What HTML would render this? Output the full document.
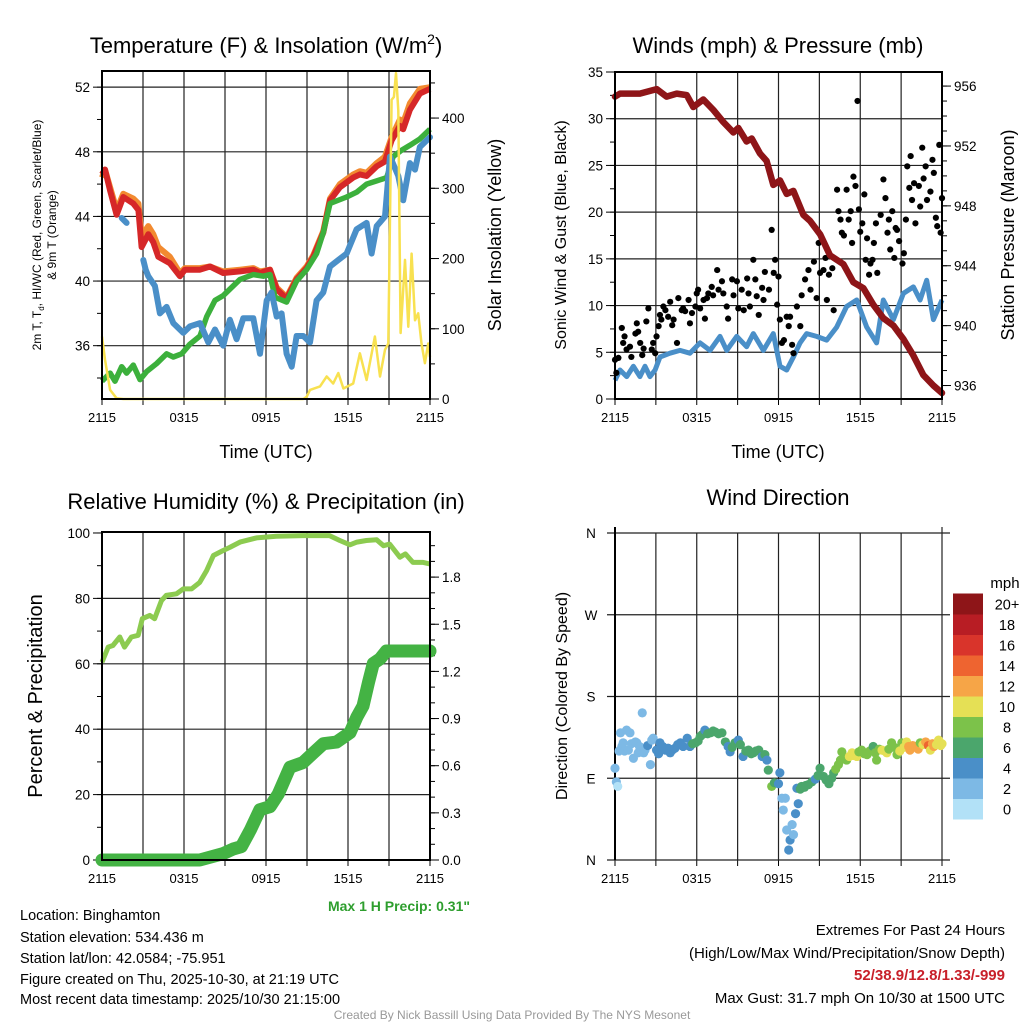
<!DOCTYPE html>
<html><head><meta charset="utf-8"><style>
html,body{margin:0;padding:0;background:#fff;}
svg{display:block;font-family:"Liberation Sans",sans-serif;}
</style></head><body>
<svg id="root" xmlns="http://www.w3.org/2000/svg" width="1024" height="1024" viewBox="0 0 1024 1024">
<rect width="1024" height="1024" fill="#fff"/>
<g id="layer"></g>
<g font-size="22" text-anchor="middle" fill="#000">
<text x="266" y="53">Temperature (F) &amp; Insolation (W/m<tspan font-size="14" dy="-9">2</tspan><tspan dy="9">)</tspan></text>
<text x="778" y="53">Winds (mph) &amp; Pressure (mb)</text>
<text x="266" y="509">Relative Humidity (%) &amp; Precipitation (in)</text>
<text x="778" y="505">Wind Direction</text>
</g>
<g font-size="18" text-anchor="middle">
<text x="266" y="458">Time (UTC)</text>
<text x="778" y="458">Time (UTC)</text>
<text transform="translate(501,235) rotate(-90)">Solar Insolation (Yellow)</text>
<text transform="translate(566,235) rotate(-90)" font-size="16">Sonic Wind &amp; Gust (Blue, Black)</text>
<text transform="translate(1014,235) rotate(-90)">Station Pressure (Maroon)</text>
<text transform="translate(42,696) rotate(-90)" font-size="20">Percent &amp; Precipitation</text>
<text transform="translate(567,696) rotate(-90)" font-size="16">Direction (Colored By Speed)</text>
</g>
<g font-size="12" text-anchor="middle">
<text transform="translate(41,235) rotate(-90)">2m T, T<tspan font-size="8" dy="3">d</tspan><tspan dy="-3">, HI/WC (Red, Green, Scarlet/Blue)</tspan></text>
<text transform="translate(56,235) rotate(-90)">&amp; 9m T (Orange)</text>
</g>
<text x="470" y="911" font-size="14" font-weight="bold" fill="#2E9E2E" text-anchor="end">Max 1 H Precip: 0.31"</text>
<g font-size="14.5" fill="#000">
<text x="20" y="920">Location: Binghamton</text>
<text x="20" y="942">Station elevation: 534.436 m</text>
<text x="20" y="963">Station lat/lon: 42.0584; -75.951</text>
<text x="20" y="984">Figure created on Thu, 2025-10-30, at 21:19 UTC</text>
<text x="20" y="1004">Most recent data timestamp: 2025/10/30 21:15:00</text>
</g>
<g font-size="15" text-anchor="end">
<text x="1005" y="935">Extremes For Past 24 Hours</text>
<text x="1005" y="958">(High/Low/Max Wind/Precipitation/Snow Depth)</text>
<text x="1005" y="980" fill="#C8202A" font-weight="bold">52/38.9/12.8/1.33/-999</text>
<text x="1005" y="1003">Max Gust: 31.7 mph On 10/30 at 1500 UTC</text>
</g>
<text x="512" y="1019" font-size="12" fill="#999" text-anchor="middle">Created By Nick Bassill Using Data Provided By The NYS Mesonet</text>
<text x="1005" y="588" font-size="15" text-anchor="middle">mph</text>
</svg>
<script>
// ---------- data ----------
const xTickLabels = ["2115","0315","0915","1515","2115"];
const tempHours = [0,0.22,0.59,1.07,1.56,2.29,2.66,2.9,3.39,3.75,4.12,4.97,5.7,6.07,7.17,7.9,8.87,10.1,11.07,11.56,12.29,12.78,13.51,14.24,14.97,15.46,16.19,16.68,17.41,18.38,18.87,19.36,20.1,20.7,21.19,21.8,22.04,22.53,23.26,24];
const redTemp = [46.6,46.9,45.6,44.1,45.2,44.8,44.4,42.1,42.9,42.4,41.5,41.1,40.3,40.7,40.7,40.9,40.5,40.6,40.7,40.5,40.7,39.5,38.9,40.1,40.8,41.5,43.0,45.0,45.8,46.4,46.6,46.5,47.1,47.4,48.7,49.6,49.4,50.6,51.6,51.9];
const orangeTemp = [46.4,46.9,45.8,44.4,45.4,45.1,44.8,42.8,43.4,42.9,42.1,41.5,40.5,40.8,40.8,40.9,40.6,40.7,40.8,40.6,40.7,39.6,39.0,40.2,40.9,41.6,43.1,45.1,46.0,46.6,46.8,46.7,47.3,47.7,48.9,50.0,49.8,51.0,51.9,52.0];
const greenHours = [0,0.59,0.95,1.44,1.8,2.29,2.78,3.27,4.0,4.73,5.22,5.83,6.44,7.17,7.66,8.27,8.87,9.36,10.1,11.07,11.8,12.29,12.66,13.51,14.24,14.97,15.7,16.19,16.68,17.9,18.63,19.36,20.1,20.83,21.31,21.92,22.53,23.26,24];
const greenTemp = [33.8,34.3,33.8,34.7,34.3,34.8,33.9,34.4,34.9,35.5,35.3,35.5,36.1,36.6,37.8,38.8,39.1,39.5,40.1,40.4,40.3,40.4,39.0,38.7,40.0,40.7,41.7,43.0,44.8,45.2,45.5,46.0,46.2,46.4,47.7,48.1,48.4,48.8,49.4];
const blueHours1 = [1.44,1.8];
const blueTemp1 = [43.9,43.6];
const blueHours2 = [3.02,3.2,3.39,3.87,4.24,4.73,5.22,5.95,6.44,7.17,7.78,8.27,8.87,9.36,9.85,10.34,11.07,11.56,12.05,12.41,12.78,13.14,13.51,13.88,14.24,14.73,15.22,15.7,16.19,16.68,17.29,17.9,18.63,19.36,19.73,20.1,20.71,21.07,21.68,22.04,22.53,22.9,23.26,24];
const blueTemp2 = [41.3,40.7,40.3,39.7,38.0,38.4,37.4,36.8,37.2,37.4,36.2,37.0,36.0,37.6,36.4,37.7,37.7,35.5,38.8,39.3,37.8,38.0,35.5,34.7,36.6,36.6,36.2,38.8,39.3,40.9,41.3,41.7,43.2,43.6,41.7,43.4,44.0,47.7,46.5,45.0,47.3,46.9,48.3,48.9];
const solarHours = [0,0.22,0.59,1.07,1.56,14.73,14.97,15.22,15.95,16.44,16.92,17.29,17.66,18.38,18.87,19.36,19.97,20.34,20.71,20.95,21.19,21.36,21.51,21.68,21.85,22.17,22.41,22.65,22.9,23.14,23.38,23.63,23.87,24];
const solarValues = [89,56,13,1,0,0,3,13,18,32,22,37,15,22,65,27,89,32,70,79,426,430,464,411,94,198,103,207,112,122,79,51,79,60];

const pressHours = [0,0.37,1.83,3.06,3.79,4.53,5.26,5.75,6.48,7.22,7.95,8.69,9.05,9.66,10.03,10.64,11.13,11.62,12.11,12.6,13.09,13.82,14.31,15.05,15.78,16.76,17.49,18.23,18.96,19.69,20.43,21.17,21.9,22.63,23.37,24];
const pressValues = [955.3,955.5,955.5,955.8,955.3,955.5,955.4,954.6,955.1,954.4,953.6,952.9,953.2,952.3,952.5,951.5,951.0,949.4,949.7,948.8,949.0,947.4,947.0,946.1,944.7,944.1,942.9,942.5,941.4,940.5,940.0,939.1,938.0,936.7,936.0,935.5];
const windHours = [0,0.37,0.86,1.35,1.83,2.2,2.57,2.94,3.3,4.04,4.77,5.5,6.24,6.97,7.71,8.2,8.93,9.66,10.15,10.89,11.62,12.11,12.6,13.09,13.58,14.07,14.8,15.54,16.27,17.0,17.74,18.47,19.2,19.69,20.43,21.17,21.9,22.39,22.88,23.37,24];
const windValues = [2.0,3.1,2.4,3.5,2.4,3.5,2.4,3.1,4.5,4.9,5.2,4.9,6.0,5.2,6.7,5.2,6.7,5.6,7.0,5.2,7.0,3.5,3.1,4.5,6.0,7.0,6.7,6.3,7.7,9.9,10.6,7.7,6.0,10.6,8.5,11.3,12.0,10.6,12.7,8.5,10.6];
const gustHours = [0,0.1,0.25,0.5,0.6,0.7,0.85,1.1,1.2,1.5,1.6,1.7,1.85,2.0,2.1,2.3,2.45,2.7,2.8,2.95,3.05,3.2,3.3,3.4,3.55,3.7,3.9,4.05,4.2,4.3,4.55,4.65,4.9,5.0,5.15,5.4,5.5,5.65,5.9,6.0,6.1,6.25,6.5,6.6,6.75,6.85,7.1,7.2,7.5,7.6,7.85,7.95,8.2,8.3,8.6,8.7,8.95,9.05,9.3,9.45,9.7,9.8,9.9,10.15,10.3,10.4,10.55,10.8,10.9,11.0,11.3,11.5,11.65,11.75,11.9,12.0,12.1,12.25,12.4,12.6,12.75,12.85,13.0,13.1,13.35,13.6,13.7,13.95,14.2,14.35,14.6,14.8,14.95,15.05,15.3,15.45,15.55,15.7,15.95,16.05,16.3,16.4,16.55,16.65,16.8,17.0,17.15,17.3,17.4,17.5,17.65,17.8,17.9,18.0,18.15,18.3,18.4,18.5,18.65,18.75,18.9,19.0,19.15,19.25,19.5,19.7,19.85,20.0,20.1,20.2,20.35,20.5,20.6,20.7,20.85,21.1,21.2,21.35,21.45,21.6,21.7,21.8,21.95,22.05,22.3,22.4,22.55,22.65,22.8,22.9,23.15,23.3,23.4,23.55,23.65,23.8,23.9,24.0];
const gustValues = [4.2,2.8,4.4,7.6,6.0,6.7,5.3,5.6,4.5,7.0,8.1,7.2,6.0,4.7,5.4,8.3,9.7,5.3,6.0,4.9,6.7,7.8,9.0,8.5,9.9,9.5,8.8,10.4,7.9,8.5,6.0,10.8,9.5,9.7,9.4,10.6,8.1,9.2,9.9,11.3,11.7,9.7,10.6,8.6,10.8,11.3,12.0,11.1,13.8,11.7,12.6,11.3,9.9,8.6,12.8,11.1,12.6,9.7,11.7,9.5,12.9,11.3,9.9,14.9,12.8,11.0,9.0,11.9,10.6,13.6,11.7,18.1,13.5,14.9,10.1,13.1,8.5,6.0,6.3,8.8,7.8,8.8,5.8,4.9,9.9,7.8,11.1,12.8,13.8,11.7,14.7,10.8,16.7,13.5,13.8,15.1,10.6,13.3,14.0,9.5,22.4,20.1,19.2,17.8,17.5,22.4,19.2,20.1,16.7,23.8,22.8,31.9,20.3,17.9,18.8,21.9,14.9,17.2,13.3,14.5,14.9,16.7,18.8,13.5,19.7,23.5,21.5,17.8,19.2,16.0,20.1,15.1,18.3,18.1,16.9,14.5,15.6,19.2,24.9,22.6,26.0,21.3,23.1,18.8,22.8,20.6,26.9,23.6,24.9,21.3,22.2,25.6,24.2,19.4,18.5,27.2,17.8,21.5];

const rhHours = [0,0.45,0.8,1.3,1.65,2.15,2.65,2.95,3.5,3.85,4.35,4.7,5.45,5.95,6.55,7.15,7.65,8.15,8.85,9.35,10.1,11.3,12.75,14.7,16.65,17.4,18.15,18.65,19.35,20.1,20.6,21.05,21.8,22.2,22.75,23.5,24];
const rhValues = [60.5,65.1,65.6,68.2,65.1,68.2,68.7,73.8,74.8,73.8,79.3,80.9,81.4,82.9,82.9,84.9,88.5,93.1,94.6,95.6,97.2,98.5,99.0,99.2,99.2,97.7,96.4,97.2,97.7,97.9,96.1,96.6,92.6,93.6,91.0,91.0,90.5];
const precipHours = [0,7.15,8.85,9.6,10.2,10.85,11.55,12.3,12.9,13.75,14.7,15.45,16.2,17.15,18.15,18.65,19.1,19.5,19.85,20.35,20.8,24];
const precipValues = [0,0,0.04,0.07,0.085,0.19,0.32,0.34,0.42,0.59,0.62,0.68,0.74,0.75,0.81,0.91,0.98,1.13,1.25,1.28,1.33,1.33];

const dirHours = [0,0.1,0.2,0.3,0.4,0.5,0.6,0.7,0.85,0.98,1.1,1.2,1.35,1.5,1.6,1.7,1.8,2.0,2.1,2.2,2.4,2.6,2.7,2.8,3.05,3.2,3.3,3.5,3.7,3.9,4.05,4.2,4.4,4.6,4.8,5.0,5.3,5.5,5.7,5.9,6.1,6.25,6.4,6.6,6.8,7.0,7.2,7.35,7.6,7.85,8.1,8.3,8.45,8.6,8.8,9.05,9.2,9.4,9.6,9.8,10.0,10.15,10.35,10.55,10.8,11.0,11.15,11.25,11.5,11.7,12.0,12.1,12.25,12.35,12.5,12.6,12.75,12.85,13.0,13.1,13.25,13.35,13.45,13.6,13.7,13.9,14.0,14.2,14.45,14.7,14.9,15.05,15.3,15.5,15.7,15.9,16.05,16.2,16.4,16.55,16.65,16.8,17.0,17.2,17.4,17.55,17.75,17.9,18.1,18.3,18.5,18.7,18.95,19.1,19.2,19.4,19.6,19.8,19.95,20.1,20.3,20.5,20.7,20.9,21.05,21.2,21.4,21.55,21.65,21.85,22.05,22.25,22.4,22.6,22.8,23.0,23.15,23.3,23.4,23.6,23.75,23.9,24];
const dirValues = [101,86,81,120,140,125,129,120,143,121,140,128,112,130,129,118,125,162,118,121,126,105,132,134,121,117,129,125,121,123,118,121,123,127,129,125,134,125,128,129,131,136,138,143,139,140,142,141,139,140,130,125,119,124,129,132,127,114,120,121,117,118,120,121,114,116,110,99,81,85,84,96,68,55,68,33,11,22,39,28,51,79,62,78,81,80,82,83,86,89,93,101,92,88,84,90,96,100,105,110,119,112,110,114,118,115,114,119,121,117,116,120,125,118,110,122,121,120,118,122,129,124,116,120,129,124,130,125,121,126,125,122,129,127,130,126,121,128,125,127,132,126,128];
const dirSpeeds = [2,1,0.5,2,2,2,2,2,2,2,2,2,2,2,2,2,2,2.5,2,2,4.5,2,2,2,4.5,4.5,4.5,4.5,4.5,4.5,4.5,4.5,4.5,4.5,4.5,4.5,4.5,4.5,5,5,5,5.5,6.5,4.5,6.5,6.5,6.5,6.5,6.5,6.5,5,4.5,4.5,6.5,6.5,4.5,6.5,4.5,6.5,6.5,6.5,6.5,6.5,6.5,4.5,6.5,4.5,6.5,7.5,6.5,4.5,4.5,2.5,2.5,2.5,2.5,4.5,4.5,2.5,2.5,4.5,4.5,4.5,6.5,6.5,6.5,6.5,6.5,6.5,4.5,6.5,6.5,6.5,6.5,6.5,6.5,6.5,7.5,7.5,7.5,7.5,8.5,8.5,9.5,9.5,10.5,10.5,8.5,7.5,8.5,8.5,7.5,6.5,7.5,7.5,8.5,10.5,10.5,10.5,8.5,8.5,7.5,7.5,9.5,7.5,10.5,10.5,12.5,12.5,12.5,11.5,12.5,8.5,10.5,12.5,13.5,10.5,12.5,12.5,10.5,10.5,10.5,10.5];
const legendLabels = ["0","2","4","6","8","10","12","14","16","18","20+"];

// ---------- drawing ----------
const NS = "http://www.w3.org/2000/svg";
const layer = document.getElementById("layer");
const binColors = ["#B2E1F7","#7DB9E5","#4A8FC8","#4BA66C","#7CC24A","#E5E055","#F6A547","#EE6430","#D9342B","#B81D24","#8E1518"];
function mk(tag, attrs, parent){const e=document.createElementNS(NS,tag);for(const k in attrs)e.setAttribute(k,attrs[k]);(parent||layer).appendChild(e);return e;}
function scale(d0,d1,r0,r1){return v=>r0+(v-d0)/(d1-d0)*(r1-r0);}
function pathD(xs,ys,sx,sy){return xs.map((h,i)=>(i?"L":"M")+sx(h).toFixed(1)+","+sy(ys[i]).toFixed(1)).join(" ");}

function frame(p, name){
  const g=mk("g",{});
  
  
  const sx=scale(0,24,p.x0,p.x1);
  for(let h=3;h<24;h+=3){
    const l=mk("line",{x1:sx(h),x2:sx(h),y1:p.y0,y2:p.y1,stroke:"#222","stroke-width":1.2},g);
    
    
  }
  for(let h=0;h<=24;h+=3){
    mk("line",{x1:sx(h),x2:sx(h),y1:p.y1,y2:p.y1+6,stroke:"#000","stroke-width":1},g);
  }
  xTickLabels.forEach((t,i)=>{
    const tx=mk("text",{x:sx(i*6),y:p.y1+23,"font-size":13,"text-anchor":"middle"},g);
    tx.textContent=t;
    
    
  });
  return {g,sx};
}
function hgrid(g,p,ys){ys.forEach(y=>{const l=mk("line",{x1:p.x0,x2:p.x1,y1:y,y2:y,stroke:"#222","stroke-width":1.2},g);});}
function border(g,p){const r=mk("rect",{x:p.x0,y:p.y0,width:p.x1-p.x0,height:p.y1-p.y0,fill:"none",stroke:"#000","stroke-width":2},g);}
function yTicks(g,x,vals,sy,side,fmt,len){
  vals.forEach(v=>{
    const y=sy(v);
    mk("line",{x1:x,x2:x+(side<0?-len:len),y1:y,y2:y,stroke:"#000","stroke-width":1},g);
    if(fmt){const t=mk("text",{x:x+(side<0?-12:12),y:y+5,"font-size":13.5,"text-anchor":side<0?"end":"start"},g);t.textContent=fmt(v);}
  });
}

// Panel 1
(function(){
  const p={x0:102,x1:430,y0:71,y1:399};
  const {g,sx}=frame(p,'temperature');
  const sy=scale(32.7,53.0,p.y1,p.y0), ss=scale(0,467,p.y1,p.y0);
  hgrid(g,p,[36,40,44,48,52].map(sy));
  yTicks(g,p.x0,[34,36,38,40,42,44,46,48,50,52],sy,-1,null,5);
  yTicks(g,p.x0,[36,40,44,48,52],sy,-1,v=>v,9);
  yTicks(g,p.x1,[0,50,100,150,200,250,300,350,400,450],ss,1,null,5);
  yTicks(g,p.x1,[0,100,200,300,400],ss,1,v=>v,9);
  const c=mk("g",{"clip-path":"url(#c1)"},g);
  const cp=mk("clipPath",{id:"c1"});mk("rect",{x:p.x0-4,y:p.y0-2,width:p.x1-p.x0+8,height:p.y1-p.y0+4},cp);
  let e;
  e=mk("path",{d:pathD(tempHours,orangeTemp,sx,sy),fill:"none",stroke:"#F28A30","stroke-width":6,"stroke-linejoin":"round"},c);
  
  
  e=mk("path",{d:pathD(tempHours,redTemp,sx,sy),fill:"none",stroke:"#D62728","stroke-width":6,"stroke-linejoin":"round"},c);
  
  
  e=mk("path",{d:pathD(greenHours,greenTemp,sx,sy),fill:"none",stroke:"#3CB03C","stroke-width":5.5,"stroke-linejoin":"round"},c);
  
  
  e=mk("path",{d:pathD(blueHours1,blueTemp1,sx,sy)+" "+pathD(blueHours2,blueTemp2,sx,sy),fill:"none",stroke:"#4A8FC8","stroke-width":6,"stroke-linejoin":"round","stroke-linecap":"round"},c);
  
  
  e=mk("path",{d:pathD(solarHours,solarValues,sx,ss),fill:"none",stroke:"#F8E150","stroke-width":2.5,"stroke-linejoin":"round"},c);
  
  
  border(g,p);
})();

// Panel 2
(function(){
  const p={x0:615,x1:942,y0:72,y1:399};
  const {g,sx}=frame(p,'winds');
  const sy=scale(0,35,p.y1,p.y0), sp=scale(935.1,956.94,p.y1,p.y0);
  hgrid(g,p,[5,10,15,20,25,30].map(sy));
  yTicks(g,p.x0,[0,2.5,5,7.5,10,12.5,15,17.5,20,22.5,25,27.5,30,32.5,35],sy,-1,null,5);
  yTicks(g,p.x0,[0,5,10,15,20,25,30,35],sy,-1,v=>v,9);
  const minor=[];for(let v=936;v<=956;v+=1)minor.push(v);
  yTicks(g,p.x1,minor,sp,1,null,5);
  yTicks(g,p.x1,[936,940,944,948,952,956],sp,1,v=>v,9);
  let e;
  e=mk("path",{d:pathD(windHours,windValues,sx,sy),fill:"none",stroke:"#4A8FC8","stroke-width":5,"stroke-linejoin":"round"},g);
  
  
  const dg=mk("g",{},g);
  
  
  gustHours.forEach((h,i)=>{
    const d=mk("circle",{cx:sx(h),cy:sy(gustValues[i]),r:3.1,fill:"#000"},dg);
    
    
  });
  e=mk("path",{d:pathD(pressHours,pressValues,sx,sp),fill:"none",stroke:"#8E1518","stroke-width":6.5,"stroke-linejoin":"round","stroke-linecap":"round"},g);
  
  
  border(g,p);
})();

// Panel 3
(function(){
  const p={x0:102,x1:430,y0:532,y1:860};
  const {g,sx}=frame(p,'humidity');
  const sy=scale(0,100.3,p.y1,p.y0), sr=scale(0,2.087,p.y1,p.y0);
  hgrid(g,p,[20,40,60,80].map(sy));
  yTicks(g,p.x0,[0,10,20,30,40,50,60,70,80,90,100],sy,-1,null,5);
  yTicks(g,p.x0,[0,20,40,60,80,100],sy,-1,v=>v,9);
  const minor=[];for(let v=0;v<=2.05;v+=0.1)minor.push(v);
  yTicks(g,p.x1,minor,sr,1,null,5);
  yTicks(g,p.x1,[0,0.3,0.6,0.9,1.2,1.5,1.8],sr,1,v=>v.toFixed(1),9);
  let e;
  e=mk("path",{d:pathD(rhHours,rhValues,sx,sy),fill:"none",stroke:"#8CCB50","stroke-width":5,"stroke-linejoin":"round"},g);
  
  
  e=mk("path",{d:pathD(precipHours,precipValues,sx,sr),fill:"none",stroke:"#44B344","stroke-width":13,"stroke-linejoin":"round","stroke-linecap":"round"},g);
  
  
  border(g,p);
})();

// Panel 4
(function(){
  const p={x0:615,x1:942,y0:533,y1:860};
  const {g,sx}=frame(p,'wind-direction');
  const sy=scale(0,360,p.y1,p.y0);
  [0,90,180,270,360].forEach(v=>{
    const y=sy(v);
    const l=mk("line",{x1:p.x0-8,x2:p.x1+8,y1:y,y2:y,stroke:"#222","stroke-width":1.2},g);
    
    
  });
  ["N","E","S","W","N"].forEach((t,i)=>{
    const tx=mk("text",{x:591,y:sy(i*90)+5,"font-size":13.5,"text-anchor":"middle"},g);
    tx.textContent=t;
    
    
  });
  mk("line",{x1:p.x0,x2:p.x0,y1:p.y0-6,y2:p.y1,stroke:"#000","stroke-width":2},g);
  mk("line",{x1:p.x1,x2:p.x1,y1:p.y0-6,y2:p.y1,stroke:"#222","stroke-width":1.2},g);
  const dg=mk("g",{},g);
  
  
  dirHours.forEach((h,i)=>{
    const bin=Math.min(10,Math.max(0,Math.floor((dirSpeeds[i]+1)/2)));
    const d=mk("circle",{cx:sx(h),cy:sy(dirValues[i]),r:4.6,fill:binColors[bin]},dg);
    
    
  });
  const lg=mk("g",{});
  
  
  const bh=20.5, ly=819;
  legendLabels.forEach((t,i)=>{
    const y=ly-(i+1)*bh;
    const r=mk("rect",{x:953,y:y,width:30,height:bh+0.5,fill:binColors[i]},lg);
    
    
    const tx=mk("text",{x:1007,y:y+bh/2+5.5,"font-size":14.5,"text-anchor":"middle"},lg);
    tx.textContent=t;
    
    
  });
})();
</script>
</body></html>
